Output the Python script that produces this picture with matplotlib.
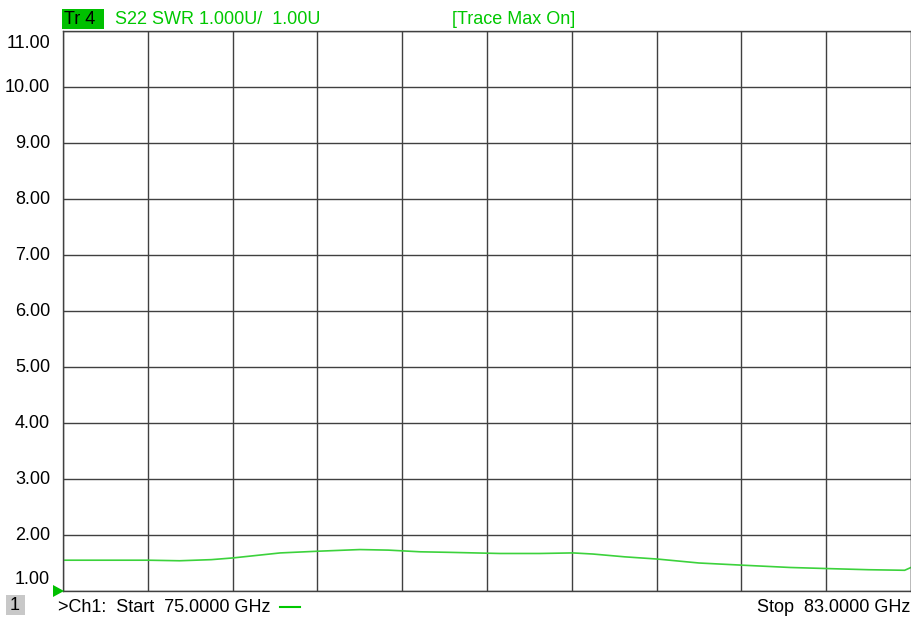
import matplotlib.pyplot as plt
from matplotlib.patches import Polygon, Rectangle

plt.rcParams['font.family'] = ['Liberation Sans', 'DejaVu Sans']

# sweep frequency (GHz) and SWR readings taken off the trace
freq_ghz = [75.0, 75.8, 76.1, 76.4, 76.6, 77.05, 77.4, 77.8, 78.07, 78.37, 78.65,
            79.12, 79.5, 79.81, 80.0, 80.3, 80.61, 81.0, 81.42, 81.86, 82.22,
            82.6, 82.94, 83.0]
swr = [1.55, 1.55, 1.54, 1.56, 1.59, 1.68, 1.71, 1.74, 1.73, 1.70, 1.69,
       1.67, 1.67, 1.68, 1.66, 1.61, 1.57, 1.50, 1.46, 1.42, 1.40,
       1.38, 1.37, 1.42]

y_ticks = [1, 2, 3, 4, 5, 6, 7, 8, 9, 10, 11]
y_labels = ['1.00', '2.00', '3.00', '4.00', '5.00', '6.00', '7.00', '8.00', '9.00', '10.00', '11.00']
x_start, x_stop = 75.0, 83.0

green = '#00c800'
trace_green = '#3cd23c'
fs = 13

W, H = 912, 618
fig = plt.figure(figsize=(W / 100, H / 100), dpi=100)
fig.patch.set_facecolor('white')
ax = fig.add_axes([63 / W, (H - 591) / H, 848 / W, 560 / H])

ax.plot(freq_ghz, swr, color=trace_green, linewidth=1.2)
ax.set_xlim(x_start, x_stop)
ax.set_ylim(y_ticks[0], y_ticks[-1])
ax.set_xticks([x_start + i * (x_stop - x_start) / 10 for i in range(11)])
ax.set_yticks(y_ticks)
ax.grid(True, color='#404040', linewidth=1)
ax.tick_params(length=0, labelbottom=False, labelleft=False)
for s in ax.spines.values():
    s.set_color('#404040')
    s.set_linewidth(1)

# y labels, first/last nudged inside like the analyzer does
for v, lab in zip(y_ticks, y_labels):
    ypix = 591 - (v - 1) * 56
    if v == y_ticks[-1]:
        ypix += 12
    elif v == y_ticks[0]:
        ypix -= 12
    fig.text(50 / W, 1 - ypix / H, lab, ha='right', va='center', fontsize=fs, color='black')

# header
fig.patches.append(Rectangle((62 / W, 1 - 29 / H), 42 / W, 20 / H, transform=fig.transFigure,
                             facecolor='#00c000', edgecolor='none'))
fig.text(64 / W, 1 - 19 / H, 'Tr 4', ha='left', va='center', fontsize=fs, color='black')
fig.text(115 / W, 1 - 19 / H, 'S22 SWR 1.000U/  1.00U', ha='left', va='center', fontsize=fs, color=green)
fig.text(452 / W, 1 - 19 / H, '[Trace Max On]', ha='left', va='center', fontsize=fs, color=green)

# footer
fig.patches.append(Rectangle((6 / W, 1 - 615 / H), 19 / W, 20 / H, transform=fig.transFigure,
                             facecolor='#c8c8c8', edgecolor='none'))
fig.text(15 / W, 1 - 605 / H, '1', ha='center', va='center', fontsize=fs, color='black')
fig.text(58 / W, 1 - 607 / H, '>Ch1:  Start  75.0000 GHz', ha='left', va='center', fontsize=fs, color='black')
fig.lines.append(plt.Line2D([280 / W, 300 / W], [1 - 607 / H, 1 - 607 / H], transform=fig.transFigure,
                            color=green, linewidth=1.5))
fig.text(910 / W, 1 - 607 / H, 'Stop  83.0000 GHz', ha='right', va='center', fontsize=fs, color='black')

# reference position marker
fig.patches.append(Polygon([(53 / W, 1 - 585 / H), (64 / W, 1 - 591 / H), (53 / W, 1 - 597 / H)],
                           closed=True, transform=fig.transFigure, facecolor='#00c000', edgecolor='none'))

fig.savefig('out.png', dpi=100)
